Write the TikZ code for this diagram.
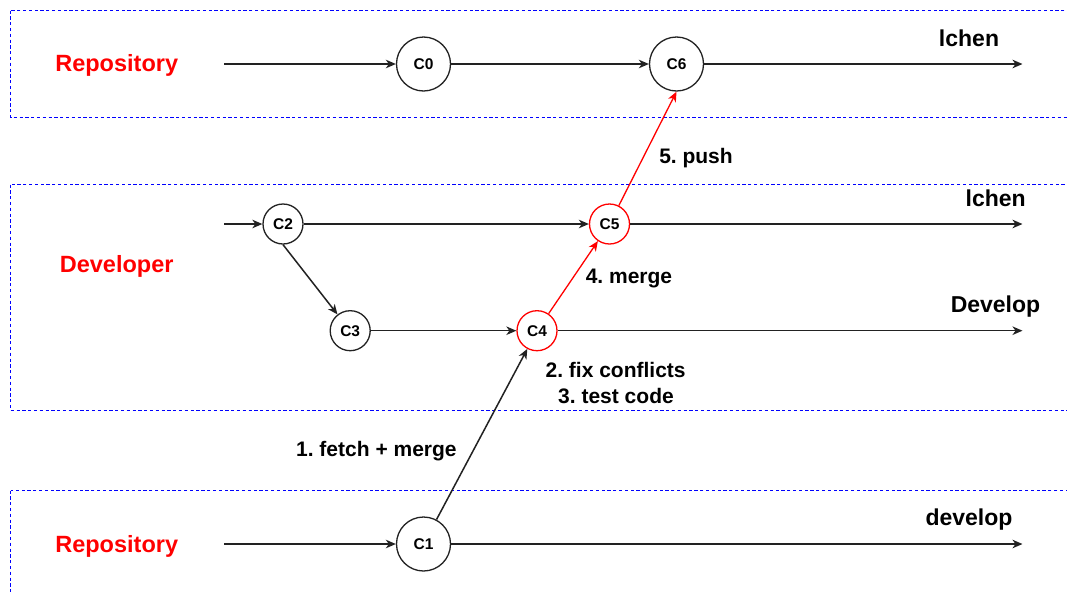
\documentclass[tikz,border=0pt]{standalone}
\usepackage{fontspec}
\setmainfont{Liberation Sans}
\usetikzlibrary{arrows.meta}
\definecolor{laneblue}{RGB}{0,0,255}
\definecolor{linegray}{RGB}{34,34,34}
\begin{document}
\frenchspacing
\begin{tikzpicture}[x=1pt,y=-1pt,
  lane/.style={draw=laneblue, line width=1.1pt, dash pattern=on 3.2pt off 2.6pt},
  commit/.style={circle, draw=linegray, line width=1.3pt, fill=white, minimum size=40pt, inner sep=0pt, font=\bfseries\fontsize{15.5}{18}\selectfont},
  bigcommit/.style={commit, minimum size=54pt},
  redcommit/.style={commit, draw=red},
  lanelabel/.style={text=red, font=\bfseries\fontsize{23.5}{27}\selectfont, anchor=base, inner sep=0pt},
  branchlabel/.style={font=\bfseries\fontsize{23}{27}\selectfont, anchor=base, inner sep=0pt},
  steplabel/.style={font=\bfseries\fontsize{21}{25}\selectfont, anchor=base, inner sep=0pt},
  flow/.style={draw=linegray, line width=1.5pt, -{Stealth[length=10pt,width=8.5pt,inset=3pt]}},
  redflow/.style={flow, draw=red, line width=1.3pt}
]
\useasboundingbox (0,0) rectangle (1067,592);
\fill[white] (0,0) rectangle (1067,592);
\begin{scope}
\clip (0,0) rectangle (1067,592);
% lanes
\draw[lane] (10.5,10.5) rectangle (1080,117.5);
\draw[lane] (10.5,184.5) rectangle (1080,410.5);
\draw[lane] (10.5,490.5) rectangle (1080,620);
\end{scope}

% commits
\node[bigcommit] (c0) at (423.5,64) {C0};
\node[bigcommit] (c6) at (676.5,64) {C6};
\node[commit] (c2) at (283,224) {C2};
\node[redcommit] (c5) at (609.5,224) {C5};
\node[commit] (c3) at (350.2,330.7) {C3};
\node[redcommit] (c4) at (537,330.7) {C4};
\node[bigcommit] (c1) at (423.5,544) {C1};

% free ends
\coordinate (s0) at (224,64);
\coordinate (e0) at (1022.5,64);
\coordinate (s1) at (224,224);
\coordinate (e1) at (1022.5,224);
\coordinate (e2) at (1022.5,330.7);
\coordinate (s3) at (224,544);
\coordinate (e3) at (1022.5,544);

% labels
\node[lanelabel] (repo1) at (116.7,71.7) {Repository};
\node[lanelabel] (dev) at (116.7,272.7) {Developer};
\node[lanelabel] (repo2) at (116.7,552.7) {Repository};
\node[branchlabel] (b1) at (969,46.7) {lchen};
\node[branchlabel] (b2) at (995.7,206.7) {lchen};
\node[branchlabel] (b3) at (995.5,312.7) {Develop};
\node[branchlabel] (b4) at (969,525) {develop};
\node[steplabel] (st1) at (376.4,456.7) {1. fetch + merge};
\node[steplabel] (st2) at (615.6,377.3) {2. fix conflicts};
\node[steplabel] (st3) at (616,403.3) {3. test code};
\node[steplabel] (st4) at (629,283.3) {4. merge};
\node[steplabel] (st5) at (696,163.3) {5. push};

% connectors
\draw[flow] (s0) -- (c0);
\draw[flow] (c0) -- (c6);
\draw[flow] (c6) -- (e0);
\draw[flow] (s1) -- (c2);
\draw[flow] (c2) -- (c5);
\draw[flow] (c5) -- (e1);
\draw[flow] (c2.south) -- (c3);
\draw[flow] (c3) -- (c4);
\draw[flow] (c4) -- (e2);
\draw[flow] (s3) -- (c1);
\draw[flow] (c1) -- (e3);
\draw[flow] (c1) -- (c4);
\draw[redflow] (c4) -- (c5);
\draw[redflow] (c5) -- (c6.south);
\end{tikzpicture}
\end{document}
